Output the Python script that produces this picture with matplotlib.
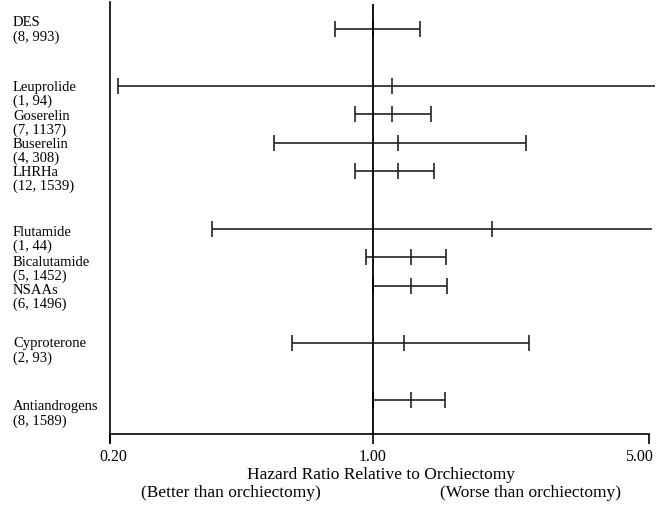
import numpy as np
import matplotlib.pyplot as plt
import matplotlib.transforms as mtransforms

# treatments and (trials, patients)
names = ["DES", "Leuprolide", "Goserelin", "Buserelin", "LHRHa",
         "Flutamide", "Bicalutamide", "NSAAs", "Cyproterone", "Antiandrogens"]
counts = ["(8, 993)", "(1, 94)", "(7, 1137)", "(4, 308)", "(12, 1539)",
          "(1, 44)", "(5, 1452)", "(6, 1496)", "(2, 93)", "(8, 1589)"]
# hazard ratio vs orchiectomy with 95% CI
hr = [1.00, 1.12, 1.12, 1.16, 1.16, 2.00, 1.25, 1.25, 1.20, 1.25]
lo = [0.80, 0.226, 0.904, 0.563, 0.901, 0.392, 0.962, 1.00, 0.625, 1.00]
hi = [1.315, 5.17, 1.40, 2.44, 1.43, 5.10, 1.53, 1.54, 2.48, 1.52]
# slot of each row (gaps separate the groups)
row_slot = [0, 2, 3, 4, 5, 7, 8, 9, 11, 13]
# labels sit on their own grid (pixels from the top of the figure)
label_px = [23, 87, 116, 144, 172, 232, 262, 290, 344, 407]

tick_vals = [0.2162, 1.0, 5.0]
tick_labels = ["0.20", "1.00", "5.00"]

plt.rcParams['font.family'] = ['Liberation Serif', 'DejaVu Serif']

W, H = 662, 506
fig = plt.figure(figsize=(W/100, H/100), dpi=100)
ax = fig.add_axes([110/W, 1-435/H, 539/W, 432/H])
ax.set_xscale('log')
ax.set_xlim(tick_vals[0], tick_vals[-1])
# 28.5 px per slot, first row 27 px below the top
ax.set_ylim(14.21, -0.947)

ax.axvline(1.0, ymax=0.993, color='black', lw=1.3, zorder=3)

cap = 5.5  # half cap height in points
for i in range(len(names)):
    y = row_slot[i]
    ax.plot([lo[i], hi[i]], [y, y], color='#222222', lw=1.2, clip_on=False,
            solid_capstyle='butt')
    ms = [lo[i], hr[i]]
    if hi[i] <= tick_vals[-1]:
        ms.append(hi[i])
    ax.plot(ms, [y]*len(ms), ls='none', marker='|', ms=2*cap, mew=1.2,
            color='#222222', clip_on=False)
    fig.text(13/W, 1-label_px[i]/H, names[i], ha='left', va='center', fontsize=10.5)
    fig.text(13/W, 1-(label_px[i]+14)/H, counts[i], ha='left', va='center', fontsize=10.5)

ax.set_xticks(tick_vals)
ax.set_xticklabels(tick_labels)
ax.xaxis.set_minor_locator(plt.NullLocator())
ax.tick_params(axis='x', direction='out', length=7, width=1.2, labelsize=11.5, pad=3)
# keep the end labels inside the figure like the original
tl = ax.get_xticklabels()
tl[0].set_transform(tl[0].get_transform() +
                    mtransforms.ScaledTranslation(3/100, 0, fig.dpi_scale_trans))
tl[-1].set_ha('right')
tl[-1].set_transform(tl[-1].get_transform() +
                     mtransforms.ScaledTranslation(4/100, 0, fig.dpi_scale_trans))
ax.set_yticks([])
for s in ['top', 'right']:
    ax.spines[s].set_visible(False)
ax.spines['left'].set_linewidth(1.2)
ax.spines['bottom'].set_linewidth(1.2)
ax.spines['left'].set_bounds(14.5, -0.947)

fig.text(381/W, 1-475/H, "Hazard Ratio Relative to Orchiectomy",
         ha='center', va='center', fontsize=12.5)
fig.text(231/W, 1-493/H, "(Better than orchiectomy)",
         ha='center', va='center', fontsize=12.5)
fig.text(531/W, 1-493/H, "(Worse than orchiectomy)",
         ha='center', va='center', fontsize=12.5)

fig.savefig("out.png", dpi=100)
